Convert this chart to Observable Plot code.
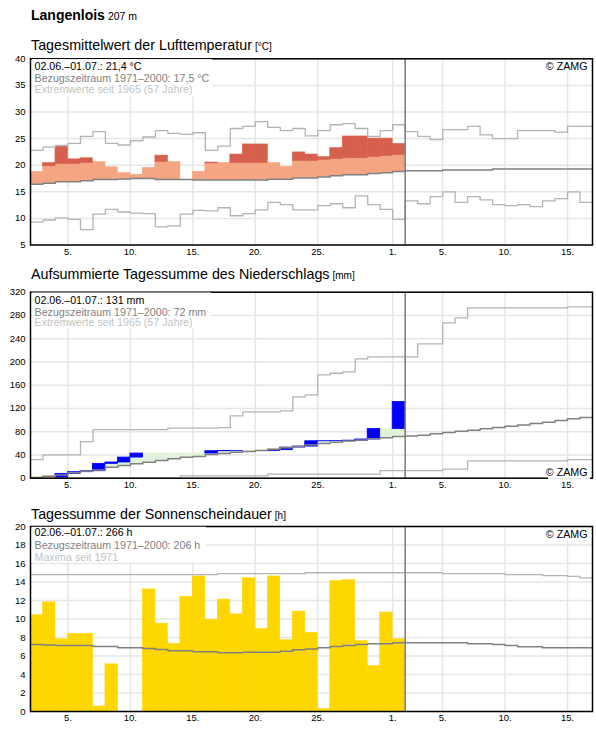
<!DOCTYPE html>
<html><head><meta charset="utf-8">
<script src="https://cdn.jsdelivr.net/npm/d3@7"></script>
<script src="https://cdn.jsdelivr.net/npm/@observablehq/plot@0.6"></script>
<style>
html,body{margin:0;padding:0;background:#fff;overflow:hidden}
#root{position:relative;width:596px;height:729px}
.panel{position:absolute;left:0}
#overlay{position:absolute;left:0;top:0;pointer-events:none}
</style></head><body><div id="root"></div>
<script>
// ---- x axis: day numbers (June 1 = 1, July 1 = 31) ----
const FIRST_DAY = 2;          // 2 June
const END_DAY = 47;           // 17 July 00:00
const TODAY_END = 32;         // end of 1 July
const xTickDays = [5, 10, 15, 20, 25, 31, 35, 40, 45];
const xTickLabels = ["5.", "10.", "15.", "20.", "25.", "1.", "5.", "10.", "15."];

// ---- Temperature (°C), 2 June – 1 July ----
const tempActual = [18.7, 20.4, 23.5, 21.1, 21.3, 20.6, 19.6, 18.5, 18.2, 19.5,
  21.8, 20.6, 17.1, 18.75, 20.5, 20.4, 22.0, 23.9, 23.9, 20.4,
  19.65, 22.4, 22.0, 21.5, 23.2, 25.4, 25.4, 25.0, 25.0, 24.0];
const tempUpperBand = [19.7, 19.8, 20.2, 20.2, 20.4, 20.6, 20.6, 20.6, 20.7, 20.7,
  20.6, 20.7, 20.5, 20.4, 20.35, 20.45, 20.4, 20.4, 20.4, 20.5,
  20.6, 20.8, 20.8, 21.0, 21.15, 21.3, 21.3, 21.5, 21.7, 21.9];
// climatology 2 June – 16 July
const tempMean = [16.4, 16.6, 16.9, 16.9, 17.1, 17.3, 17.3, 17.4, 17.5, 17.5,
  17.3, 17.3, 17.3, 17.2, 17.2, 17.2, 17.2, 17.2, 17.2, 17.35,
  17.35, 17.6, 17.6, 17.8, 18.0, 18.2, 18.2, 18.45, 18.6, 18.8,
  18.95, 18.95, 18.95, 19.1, 19.1, 19.1, 19.1, 19.3, 19.3, 19.3,
  19.3, 19.3, 19.3, 19.3, 19.3];
const tempMax = [22.8, 23.4, 23.7, 24.1, 25.4, 26.3, 24.1, 23.8, 24.6, 25.3,
  26.5, 26.0, 25.8, 26.1, 22.8, 23.6, 26.9, 27.3, 28.2, 27.1,
  26.5, 26.9, 25.5, 26.5, 27.6, 27.8, 26.9, 25.4, 26.5, 27.6,
  26.3, 25.4, 24.8, 26.7, 26.7, 27.3, 25.7, 25.0, 25.0, 26.5,
  26.5, 26.5, 26.2, 27.3, 27.3];
const tempMin = [9.3, 9.7, 10.1, 9.8, 7.9, 10.8, 11.7, 11.2, 11.0, 10.9,
  8.4, 8.6, 10.8, 11.5, 11.4, 12.0, 10.5, 10.9, 11.6, 13.0,
  12.6, 11.6, 11.6, 12.4, 12.75, 12.0, 14.25, 12.6, 11.7, 9.8,
  13.3, 12.75, 14.1, 15.0, 13.0, 14.1, 13.5, 12.6, 12.4, 12.6,
  12.2, 13.3, 13.7, 15.0, 13.0];
const tempTicks = [5, 10, 15, 20, 25, 30, 35, 40];

// ---- Precipitation (mm) ----
const precipDaily = [0, 0, 7.5, 2.8, 1.7, 12.7, 2.3, 8.5, 6.9, 0,
  0, 0, 0, 0, 4.0, 0.3, 0.2, 0, 0, 1.3,
  4.5, 1.7, 9.1, 0.2, 0.1, 0.8, 2.0, 17.9, 0, 46.5];
const precipMeanCum = [1.1, 3.4, 5.7, 9.2, 12.0, 14.3, 18.9, 21.8, 24.7, 27.5,
  30.4, 33.3, 36.1, 37.3, 40.7, 42.4, 44.7, 45.9, 47.6, 49.9,
  52.2, 54.5, 57.3, 59.6, 61.9, 64.2, 65.9, 67.7, 69.4, 71.7,
  72.5, 74.0, 76.3, 78.6, 80.8, 82.6, 84.9, 87.2, 89.4, 91.7,
  94.0, 96.3, 99.2, 102.1, 104.4];
const precipMaxCum = [32, 40, 40, 40, 63, 83.7, 83.7, 83.7, 83.7, 83.7,
  83.7, 86.3, 86.3, 86.3, 86.3, 87, 107.2, 114.1, 114.1, 114.1,
  115.8, 139.9, 143.3, 177.8, 180.6, 182.9, 205.3, 208.7, 208.7, 208.7,
  208.7, 231, 231, 267.2, 275.8, 293, 293, 293, 293, 293,
  293, 293, 293, 294.7, 294.7];
const precipMinCum = [0, 0, 0, 0, 0, 0, 0, 0, 0, 0,
  0, 0, 4.0, 4.0, 4.0, 4.0, 4.0, 4.0, 4.0, 6.9,
  6.9, 6.9, 6.9, 6.9, 6.9, 6.9, 6.9, 6.9, 13.2, 13.2,
  13.2, 13.2, 13.2, 15.5, 15.5, 29.8, 29.8, 29.8, 29.8, 29.8,
  29.8, 29.8, 29.8, 32.1, 32.1];
const precipTicks = [0, 40, 80, 120, 160, 200, 240, 280, 320];

// ---- Sunshine (h) ----
const sunDaily = [10.4, 11.8, 7.8, 8.4, 8.4, 0.54, 5.1, 0, 0, 13.2,
  9.5, 7.3, 12.4, 14.6, 9.9, 12.1, 10.5, 14.4, 8.9, 14.6,
  7.7, 10.8, 8.5, 0.25, 14.1, 14.2, 7.6, 4.9, 10.7, 7.8];
const sunMean = [7.24, 7.2, 7.14, 7.14, 7.14, 7.03, 7.03, 6.88, 6.88, 6.81,
  6.7, 6.56, 6.56, 6.45, 6.45, 6.34, 6.34, 6.41, 6.41, 6.41,
  6.52, 6.67, 6.77, 6.88, 7.03, 7.14, 7.24, 7.32, 7.32, 7.42,
  7.42, 7.42, 7.42, 7.42, 7.42, 7.32, 7.32, 7.24, 7.14, 6.99,
  6.99, 6.88, 6.88, 6.88, 6.88];
const sunMaxima = [14.8, 14.8, 14.8, 14.8, 14.8, 14.8, 14.8, 14.8, 14.8, 14.8,
  14.8, 14.8, 14.8, 14.8, 14.8, 14.9, 14.9, 14.9, 14.9, 14.9,
  14.9, 14.9, 15.0, 15.0, 15.0, 15.0, 15.0, 15.0, 15.0, 15.0,
  15.0, 15.0, 15.0, 14.9, 14.9, 14.9, 14.9, 14.9, 14.8, 14.8,
  14.8, 14.7, 14.7, 14.6, 14.45];
const sunTicks = [0, 2, 4, 6, 8, 10, 12, 14, 16, 18, 20];

// ---- texts ----
const station = "Langenlois";
const altitude = "207 m";
const panelTitles = ["Tagesmittelwert der Lufttemperatur", "Aufsummierte Tagessumme des Niederschlags", "Tagessumme der Sonnenscheindauer"];
const panelUnits = ["[°C]", "[mm]", "[h]"];
const panelNotes = [
  ["02.06.–01.07.: 21,4 °C", "Bezugszeitraum 1971–2000: 17,5 °C", "Extremwerte seit 1965 (57 Jahre)"],
  ["02.06.–01.07.: 131 mm", "Bezugszeitraum 1971–2000: 72 mm", "Extremwerte seit 1965 (57 Jahre)"],
  ["02.06.–01.07.: 266 h", "Bezugszeitraum 1971–2000: 206 h", "Maxima seit 1971"]
];
const credit = "© ZAMG";

// ---- styling ----
const FONT = "'Liberation Sans', Arial, sans-serif";
const GRID = "#e6e6e6";
const EXT = "#b4b4b4";
const MEAN = "#808080";
const xLabelOf = new Map(xTickDays.map((d, i) => [d, xTickLabels[i]]));

function stepData(values) {
  const pts = values.map((v, i) => ({x: FIRST_DAY + i, y: v}));
  pts.push({x: FIRST_DAY + values.length, y: values[values.length - 1]});
  return pts;
}
const stepLine = (values, stroke, w) =>
  Plot.line(stepData(values), {x: "x", y: "y", curve: "step-after", stroke, strokeWidth: w});

function panel({top, height, marginTop, marginBottom, yDomain, yTicks, marks}) {
  const svg = Plot.plot({
    width: 596, height, marginLeft: 30, marginRight: 4, marginTop, marginBottom,
    x: {domain: [FIRST_DAY, END_DAY]},
    y: {domain: yDomain},
    style: {fontFamily: FONT, fontSize: "9.5px", color: "#000", background: "transparent", overflow: "visible"},
    marks: [
      Plot.gridY(yTicks, {stroke: GRID, strokeOpacity: 1, strokeWidth: 1.5}),
      Plot.gridX(xTickDays, {stroke: GRID, strokeOpacity: 1, strokeWidth: 1.5}),
      ...marks,
      Plot.ruleX([TODAY_END], {stroke: "#7a7a7a", strokeWidth: 1.5}),
      Plot.frame({stroke: "#000", strokeWidth: 1.5}),
      Plot.axisY(yTicks, {tickSize: 0, tickPadding: 5, label: null}),
      Plot.axisX(xTickDays, {tickSize: 0, tickPadding: 3, label: null, tickFormat: d => xLabelOf.get(d)})
    ]
  });
  const wrap = document.createElement("div");
  wrap.className = "panel";
  wrap.style.top = top + "px";
  wrap.appendChild(svg);
  document.getElementById("root").appendChild(wrap);
}

// Panel 1: temperature
const tempDays = tempActual.map((v, i) => ({x1: FIRST_DAY + i, x2: FIRST_DAY + i + 1, actual: v, mean: tempMean[i], band: tempUpperBand[i]}));
panel({
  top: 50, height: 215, marginTop: 8.3, marginBottom: 20.5, yDomain: [5, 40], yTicks: tempTicks,
  marks: [
    Plot.rect(tempDays.filter(d => d.actual > d.mean), {x1: "x1", x2: "x2", y1: "mean", y2: d => Math.min(d.actual, d.band), fill: "#f4a582", stroke: "#f4a582", strokeWidth: 0.6}),
    Plot.rect(tempDays.filter(d => d.actual > d.band), {x1: "x1", x2: "x2", y1: "band", y2: "actual", fill: "#d6604d", stroke: "#d6604d", strokeWidth: 0.6}),
    stepLine(tempMax, EXT, 1.3),
    stepLine(tempMin, EXT, 1.3),
    stepLine(tempMean, MEAN, 1.5)
  ]
});

// Panel 2: precipitation
const precipCum = Array.from(d3.cumsum(precipDaily));
const precipDays = precipDaily.map((v, i) => ({x1: FIRST_DAY + i, x2: FIRST_DAY + i + 1, daily: v, cum: precipCum[i], mean: precipMeanCum[i]}));
const fillOf = d => d.cum >= d.mean ? "#dff2da" : "#fdd99b";
panel({
  top: 284, height: 214, marginTop: 7.7, marginBottom: 20.3, yDomain: [0, 320], yTicks: precipTicks,
  marks: [
    Plot.rect(precipDays, {x1: "x1", x2: "x2", y1: "mean", y2: "cum", fill: fillOf, stroke: fillOf, strokeWidth: 0.5}),
    Plot.rect(precipDays.filter(d => d.daily > 0), {x1: "x1", x2: "x2", y1: d => d.cum - d.daily, y2: "cum", fill: "#0000ff", stroke: "#0000ff", strokeWidth: 0.8}),
    stepLine(precipMaxCum, EXT, 1.3),
    stepLine(precipMinCum, EXT, 1.3),
    stepLine(precipMeanCum, MEAN, 1.5)
  ]
});

// Panel 3: sunshine
const sunDays = sunDaily.map((v, i) => ({x1: FIRST_DAY + i, x2: FIRST_DAY + i + 1, h: v}));
panel({
  top: 518, height: 211, marginTop: 8, marginBottom: 18, yDomain: [0, 20], yTicks: sunTicks,
  marks: [
    Plot.rect(sunDays.filter(d => d.h > 0), {x1: "x1", x2: "x2", y1: 0, y2: "h", fill: "#ffd700", stroke: "#ffd700", strokeWidth: 0.6}),
    stepLine(sunMaxima, EXT, 1.3),
    stepLine(sunMean, MEAN, 1.5)
  ]
});

// ---- overlay texts ----
const ov = d3.select("#root").append("svg").attr("id", "overlay")
  .attr("width", 596).attr("height", 729).style("font-family", FONT);
const head = ov.append("text").attr("x", 31).attr("y", 19.5).attr("font-size", 14).attr("font-weight", "bold").attr("fill", "#000");
head.append("tspan").text(station);
head.append("tspan").attr("dx", 3).attr("font-size", 10.5).attr("font-weight", "normal").text(altitude);

const titleBase = [50, 279, 519];
panelTitles.forEach((t, i) => {
  const tx = ov.append("text").attr("x", 31).attr("y", titleBase[i]).attr("font-size", 14.3).attr("fill", "#000");
  tx.append("tspan").text(t);
  tx.append("tspan").attr("dx", 3).attr("font-size", 10).text(panelUnits[i]);
});

const noteBox = [[31.8, 59.1, 180, 37], [31.8, 292.5, 179, 35.5], [31.8, 526.8, 174, 35.5]];
const noteBase = [[69.9, 81.7, 93.4], [304.4, 315.6, 326.4], [535.9, 548.9, 560.9]];
const noteColors = ["#000", "#7f7f7f", "#c4c4c4"];
panelNotes.forEach((lines, i) => {
  const b = noteBox[i];
  ov.append("rect").attr("x", b[0]).attr("y", b[1]).attr("width", b[2]).attr("height", b[3]).attr("fill", "#fff");
  lines.forEach((l, j) => {
    ov.append("text").attr("x", 34.5).attr("y", noteBase[i][j]).attr("font-size", 10.7)
      .attr("fill", noteColors[j]).text(l);
  });
});
const creditBase = [69.6, 476.4, 537.7];
creditBase.forEach(y => {
  ov.append("rect").attr("x", 548).attr("y", y - 9.5).attr("width", 42).attr("height", 12).attr("fill", "#fff");
  ov.append("text").attr("x", 587.5).attr("y", y).attr("font-size", 10.7).attr("text-anchor", "end").attr("fill", "#000").text(credit);
});
</script></body></html>
